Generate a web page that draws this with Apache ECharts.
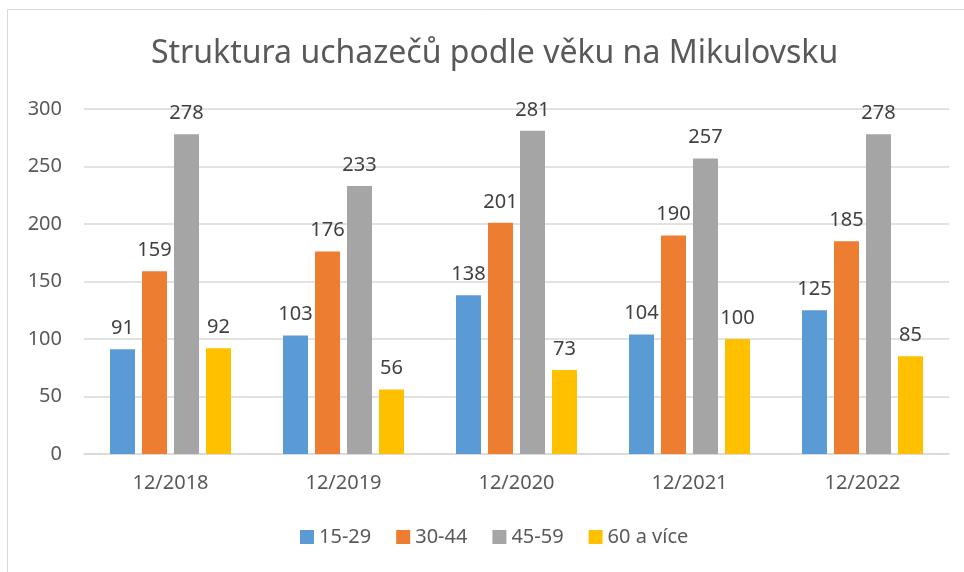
<!DOCTYPE html>
<html>
<head>
<meta charset="utf-8">
<script src="https://cdn.jsdelivr.net/npm/echarts@6/dist/echarts.min.js"></script>
<style>
html,body{margin:0;padding:0;background:#fff;}
#chart{width:964px;height:572px;}
</style>
</head>
<body>
<div id="chart"></div>
<script>
// data
var categories = ['12/2018', '12/2019', '12/2020', '12/2021', '12/2022'];
var s1529 = [91, 103, 138, 104, 125];
var s3044 = [159, 176, 201, 190, 185];
var s4559 = [278, 233, 281, 257, 278];
var s60 = [92, 56, 73, 100, 85];
var seriesNames = ['15-29', '30-44', '45-59', '60 a více'];
var colors = ['#5B9BD5', '#ED7D31', '#A5A5A5', '#FFC000'];

var font = 'Noto Sans';

function mk(name, data, color) {
	return {
		name: name,
		type: 'bar',
		barWidth: 25,
		barGap: '28%',
		itemStyle: {color: color},
		label: {show: true, position: 'top', distance: 11, color: '#404040', fontSize: 20, fontFamily: font},
		data: data
	};
}

var chart = echarts.init(document.getElementById('chart'));
chart.setOption({
	animation: false,
	color: colors,
	title: {
		text: 'Struktura uchazečů podle věku na Mikulovsku',
		left: 146,
		top: 33,
		textStyle: {color: '#595959', fontSize: 32, fontWeight: 'normal', fontFamily: font}
	},
	graphic: [{
		type: 'rect',
		shape: {x: 7.5, y: 9.5, width: 1000, height: 600},
		style: {fill: null, stroke: '#D9D9D9', lineWidth: 1},
		silent: true
	}],
	legend: {
		bottom: 20,
		left: 295,
		itemWidth: 14,
		itemHeight: 14,
		itemGap: 25,
		icon: 'rect',
		textStyle: {color: '#595959', fontSize: 20, fontFamily: font},
		data: seriesNames
	},
	grid: {left: 84, right: 15, top: 109, bottom: 118, containLabel: false},
	xAxis: {
		type: 'category',
		data: categories,
		axisLine: {lineStyle: {color: '#D9D9D9', width: 1.5}},
		axisTick: {show: false},
		axisLabel: {color: '#595959', fontSize: 20, margin: 19, fontFamily: font}
	},
	yAxis: {
		type: 'value',
		min: 0,
		max: 300,
		interval: 50,
		axisLine: {show: false},
		axisTick: {show: false},
		splitLine: {lineStyle: {color: '#D9D9D9', width: 1.5}},
		axisLabel: {color: '#595959', fontSize: 20, margin: 22, fontFamily: font}
	},
	series: [
		mk(seriesNames[0], s1529, colors[0]),
		mk(seriesNames[1], s3044, colors[1]),
		mk(seriesNames[2], s4559, colors[2]),
		mk(seriesNames[3], s60, colors[3])
	]
});
</script>
</body>
</html>
